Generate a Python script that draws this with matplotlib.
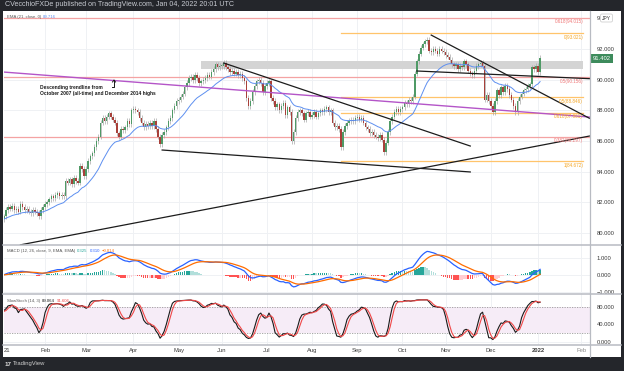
import numpy as np
import pandas as pd
import matplotlib
matplotlib.use('Agg')
import matplotlib.pyplot as plt
import matplotlib.transforms as mtransforms
from matplotlib.lines import Line2D
from matplotlib.patches import Rectangle

plt.rcParams['font.family'] = ['Liberation Sans', 'DejaVu Sans']

# CAD/JPY daily closes
jan21 = [80.9, 81.1, 81.5, 81.7, 81.6, 81.8, 81.5, 81.6, 81.4, 81.9, 81.7,
         81.5, 81.6, 81.4, 81.3, 81.5, 81.4, 81.3, 81.1, 81.5, 81.7]
feb21 = [81.9, 82.0, 82.2, 82.4, 82.3, 82.5, 82.6, 82.4, 82.5, 82.4, 83.4,
         83.3, 83.5, 83.2, 83.6, 83.4, 83.3, 84.4, 84.2, 83.7]
mar21 = [84.2, 84.7, 85.0, 85.2, 85.6, 86.0, 86.3, 87.2, 87.5, 87.3, 87.6,
         87.8, 87.6, 87.4, 87.2, 86.5, 86.3, 86.8, 86.7, 86.9, 87.3, 87.1, 88.0]
apr21 = [88.1, 88.0, 87.9, 87.5, 87.2, 86.9, 87.1, 87.0, 87.2, 87.0, 87.3,
         86.8, 86.3, 85.8, 86.4, 86.6, 86.9, 87.3, 87.5, 88.0, 88.3, 88.6]
may21 = [88.7, 88.9, 89.1, 89.5, 89.8, 90.1, 90.2, 90.0, 90.3, 90.1, 89.8,
         89.9, 90.0, 90.1, 90.3, 90.2, 90.5, 90.7, 91.0, 90.8, 90.9]
jun21 = [90.9, 91.1, 90.8, 90.7, 90.5, 90.6, 90.4, 90.5, 90.3, 90.4, 90.1,
         89.9, 88.8, 88.3, 88.6, 89.2, 89.6, 89.9, 90.0, 89.8, 89.2, 89.6]
jul21 = [89.8, 89.9, 88.8, 88.6, 88.2, 88.4, 88.0, 88.3, 88.5, 87.7, 88.2,
         87.9, 86.0, 86.6, 87.5, 87.9, 88.0, 87.8, 87.4, 87.8, 87.9, 87.6]
aug21 = [87.7, 87.9, 87.6, 87.8, 88.0, 87.9, 88.1, 88.2, 87.9, 88.0, 87.2,
         86.9, 87.0, 86.8, 85.6, 86.6, 87.0, 87.2, 87.3, 87.4, 87.3, 87.5]
sep21 = [87.6, 87.4, 87.5, 87.2, 86.9, 86.8, 86.5, 86.6, 86.4, 86.3, 86.2,
         86.4, 86.1, 85.3, 85.9, 86.6, 87.3, 87.6, 87.9, 88.1, 87.9, 88.1]
oct21 = [88.2, 88.5, 88.4, 88.7, 88.6, 88.9, 90.4, 91.2, 91.7, 92.1, 92.3,
         92.5, 92.6, 91.9, 91.8, 92.0, 91.9, 91.7, 92.0, 91.9, 91.8]
nov21 = [91.6, 91.5, 91.3, 91.0, 90.9, 91.0, 90.7, 90.9, 90.8, 91.2, 91.0,
         90.6, 90.4, 90.3, 90.6, 90.9, 91.0, 91.1, 90.9, 88.7, 89.0, 88.6]
dec21 = [88.3, 87.9, 88.6, 89.3, 89.0, 89.5, 89.2, 89.6, 89.4, 89.0, 88.7,
         88.3, 87.9, 88.6, 88.9, 89.1, 89.3, 89.4, 89.6, 89.7, 90.8, 90.7, 90.9]
jan22 = [90.5, 91.402]

closes = np.array(jan21 + feb21 + mar21 + apr21 + may21 + jun21 + jul21
                  + aug21 + sep21 + oct21 + nov21 + dec21 + jan22)
dates = pd.bdate_range('2021-01-01', '2022-01-04')
axis_days = pd.bdate_range('2021-01-01', '2022-03-31')
opens = np.r_[80.7, closes[:-1]]
wick = 0.18
highs = np.maximum(opens, closes) + wick
lows = np.minimum(opens, closes) - wick

# legend values as printed on the chart
ema_val = '89.716'
macd_vals = ['0.325', '0.310', '\u22120.014']
stoch_vals = ['89.064', '91.606']

# drawn objects: (date, price) pairs
magenta_line = [('2021-01-01', 90.51), ('2022-02-07', 87.57)]
black_lines = [
    [('2021-06-02', 91.09), ('2021-11-17', 85.68)],
    [('2021-04-21', 85.42), ('2021-11-17', 83.99)],
    [('2021-01-14', 79.24), ('2022-02-07', 86.33)],
    [('2021-10-21', 92.91), ('2022-02-07', 87.49)],
    [('2021-10-12', 90.57), ('2022-02-07', 90.07)],
]
zone = ('2021-05-18', '2022-02-02', 90.7, 91.2)
red_fibs = [(94.015, '0.618(94.015)'), (90.156, '0.5(90.156)'), (86.297, '0.382(86.297)')]
orange_fibs = [(93.021, '0(93.021)'), (88.846, '0.5(88.846)'),
               (87.861, '0.618(87.861)'), (84.672, '1(84.672)')]
fib_start, fib_end = '2021-08-20', '2022-02-02'
month_ticks = ['2021-02-01', '2021-03-01', '2021-04-01', '2021-05-03',
               '2021-06-01', '2021-07-01', '2021-08-02', '2021-09-01', '2021-10-01',
               '2021-11-01', '2021-12-01', '2022-01-03', '2022-02-01']
month_labels = ['Feb', 'Mar', 'Apr', 'May', 'Jun', 'Jul', 'Aug', 'Sep',
                'Oct', 'Nov', 'Dec', '2022', 'Feb']


def pos(d):
    return int(axis_days.searchsorted(pd.Timestamp(d)))


# indicators
s = pd.Series(closes)
ema21 = s.ewm(span=21, adjust=False).mean()
macd = s.ewm(span=12, adjust=False).mean() - s.ewm(span=26, adjust=False).mean()
signal = macd.ewm(span=9, adjust=False).mean()
hist = macd - signal
hh = pd.Series(highs).rolling(14, min_periods=1).max()
ll = pd.Series(lows).rolling(14, min_periods=1).min()
fastk = 100 * (s - ll) / (hh - ll)
slowk = fastk.rolling(3, min_periods=1).mean()
slowd = slowk.rolling(3, min_periods=1).mean()

W, H = 624, 371
fig = plt.figure(figsize=(W / 100, H / 100), dpi=100, facecolor='#24262b')


def fx(px):
    return px / W


def fy(py):
    return 1 - py / H


fig.patches.append(Rectangle((fx(3), fy(357)), fx(618), 346 / H, transform=fig.transFigure,
                             facecolor='white', edgecolor='none', zorder=-10))

x_left, x_right = 4, 590
ax = fig.add_axes([fx(x_left), fy(245), fx(x_right - x_left), 234 / H])
axm = fig.add_axes([fx(x_left), fy(294), fx(x_right - x_left), 49 / H], sharex=ax)
axs = fig.add_axes([fx(x_left), fy(345), fx(x_right - x_left), 51 / H], sharex=ax)

idx = np.arange(len(closes))
xmin = 1.0
xmax = xmin + (x_right - x_left) / 2.054
grid_c = '#eff1f4'
tick_pos = [pos(d) for d in month_ticks]
for a in (ax, axm, axs):
    a.set_facecolor('none')
    for sp in a.spines.values():
        sp.set_visible(False)
    a.yaxis.tick_right()
    a.tick_params(axis='y', length=0, pad=5, labelsize=4.2, labelcolor='#3a3a3a')
    a.tick_params(axis='x', length=0)
    for t in tick_pos:
        a.axvline(t, color=grid_c, lw=0.7, zorder=0)
ax.set_xlim(xmin, xmax)

# main pane
ax.set_ylim(79.23, 94.48)
ax.set_yticks([80, 82, 84, 86, 88, 90, 92])
ax.set_yticklabels(['%.3f' % v for v in [80, 82, 84, 86, 88, 90, 92]])
for v in [80, 82, 84, 86, 88, 90, 92, 94]:
    ax.axhline(v, color=grid_c, lw=0.7, zorder=0)
ax.tick_params(axis='x', labelbottom=False)

z0, z1, zlo, zhi = zone
ax.add_patch(Rectangle((pos(z0), zlo), pos(z1) - pos(z0), zhi - zlo,
                       facecolor='#d4d4d4', edgecolor='none', zorder=1))

for lvl, lab in red_fibs:
    ax.axhline(lvl, color='#f4a3a3', lw=0.9, zorder=2)
    ax.text(pos(fib_end), lvl - 0.08, lab, ha='right', va='top', fontsize=3.3,
            color='#f07878', zorder=6)
for lvl, lab in orange_fibs:
    ax.plot([pos(fib_start), pos(fib_end)], [lvl, lvl], color='#ffc46b', lw=0.9, zorder=2)
    ax.text(pos(fib_end), lvl - 0.08, lab, ha='right', va='top', fontsize=3.3,
            color='#f5a623', zorder=6)

up = closes >= opens
ax.vlines(idx, lows, highs, color='#a8a8a8', lw=0.5, zorder=3)
body_h = np.maximum(np.abs(closes - opens), 0.04)
ax.bar(idx, body_h, bottom=np.minimum(opens, closes), width=0.7,
       color=np.where(up, '#4f9a66', '#a8403a'), zorder=4)
ax.plot(idx, ema21, color='#5d8ff0', lw=0.7, zorder=5)

(m0, p0), (m1, p1) = magenta_line
ax.plot([pos(m0), pos(m1)], [p0, p1], color='#b455c8', lw=1.0, zorder=5)
for (d0, q0), (d1, q1) in black_lines:
    ax.plot([pos(d0), pos(d1)], [q0, q1], color='#1c1c1c', lw=0.9, zorder=5)

pt = mtransforms.blended_transform_factory(ax.transAxes, ax.transData)
ax.text(1.0055, closes[-1], '%.3f' % closes[-1], transform=pt, fontsize=4.2,
        color='white', va='center', ha='left', zorder=10, clip_on=False,
        bbox=dict(boxstyle='square,pad=0.35', fc='#3d8b5c', ec='none'))

fig.text(fx(40), fy(88), 'Descending trendline from', fontsize=3.5, fontweight='bold',
         color='#1a1a1a', va='center')
fig.text(fx(40), fy(94), 'October 2007 (all-time) and December 2014 highs', fontsize=3.5,
         fontweight='bold', color='#1a1a1a', va='center')
fig.add_artist(Line2D([fx(112), fx(114), fx(114)], [fy(87), fy(87), fy(80)],
                      color='#1a1a1a', lw=0.7))
fig.add_artist(Line2D([fx(112.5), fx(114), fx(115.5)], [fy(82), fy(80), fy(82)],
                      color='#1a1a1a', lw=0.7))

# macd pane
axm.set_ylim(-1.12, 1.76)
axm.set_yticks([-1, 0, 1])
axm.set_yticklabels(['\u22121.000', '0.000', '1.000'])
for v in [-1, 0, 1]:
    axm.axhline(v, color=grid_c, lw=0.7, zorder=0)
dh = np.r_[0, np.diff(hist)]
hcol = np.where(hist >= 0, np.where(dh > 0, '#26a69a', '#b2dfdb'),
                np.where(dh < 0, '#ff5252', '#ffcdd2'))
axm.bar(idx, hist, width=0.7, color=hcol, zorder=2)
axm.plot(idx, macd, color='#2962ff', lw=0.9, zorder=3)
axm.plot(idx, signal, color='#ff6d00', lw=0.9, zorder=3)
axm.tick_params(axis='x', labelbottom=False)

# stochastic pane
axs.set_ylim(-6.9, 109.7)
axs.set_yticks([0, 40, 80])
axs.set_yticklabels(['0.000', '40.000', '80.000'])
for v in [0, 40, 80]:
    axs.axhline(v, color=grid_c, lw=0.7, zorder=0)
axs.axhspan(20, 80, color='#f6ecf7', zorder=0.5, lw=0)
for v in [20, 80]:
    axs.axhline(v, color='#9a9a9a', lw=0.6, ls=(0, (1.5, 1.5)), zorder=1)
axs.plot(idx, slowk, color='#1a1a1a', lw=0.8, zorder=3)
axs.plot(idx, slowd, color='#f04848', lw=0.8, zorder=3)
axs.set_xticks(tick_pos)
axs.set_xticklabels(month_labels)
axs.tick_params(axis='x', labelsize=4.2, labelcolor='#3a3a3a', pad=2.5)
xl = axs.get_xticklabels()
xl[-2].set_fontweight('bold')
xl[-1].set_color('#8a8a8a')
# the 2021 label sits half outside the chart, only its "21" shows
fig.text(fx(3.5), fy(351), '21', fontsize=4.2, color='#3a3a3a', va='center')

# frame lines
sep_c = '#b8bbc2'
for py in (245, 294, 345):
    fig.add_artist(Line2D([fx(3), fx(621)], [fy(py), fy(py)], color=sep_c, lw=1.1))
fig.add_artist(Line2D([fx(590), fx(590)], [fy(11), fy(357)], color=sep_c, lw=0.9))

# legends and header
renderer = fig.canvas.get_renderer()


def legend_row(px, py, parts):
    x = fx(px)
    for txt, col in parts:
        t = fig.text(x, fy(py), txt, fontsize=3.1, color=col, va='center')
        x = (t.get_window_extent(renderer=renderer).x1 + 2) / W


fig.text(fx(5), fy(5), 'CVecchioFXDe published on TradingView.com, Jan 04, 2022 20:01 UTC',
         fontsize=5.1, color='#c8cbd2', va='center')
legend_row(7, 17, [('EMA (21, close, 0)', '#555555'), (ema_val, '#5d8ff0')])
legend_row(7, 251, [('MACD (12, 26, close, 9, EMA, EMA)', '#555555')]
           + list(zip(macd_vals, ['#26a69a', '#2962ff', '#ff6d00'])))
legend_row(7, 301, [('SlowStoch (14, 3)', '#555555')]
           + list(zip(stoch_vals, ['#1a1a1a', '#f04848'])))
fig.text(fx(597), fy(18), '9', fontsize=4.2, color='#3a3a3a', va='center')
fig.text(fx(602), fy(18), 'JPY', fontsize=3.6, color='#3a3a3a', va='center',
         bbox=dict(boxstyle='round,pad=0.3', fc='white', ec='#c8c8c8', lw=0.5))
fig.text(fx(5), fy(364), '17', fontsize=4.5, fontweight='bold', color='#e0e0e0', va='center')
fig.text(fx(13), fy(364), 'TradingView', fontsize=4.2, color='#d0d0d0', va='center')

fig.savefig('out.png', dpi=100, facecolor=fig.get_facecolor())
